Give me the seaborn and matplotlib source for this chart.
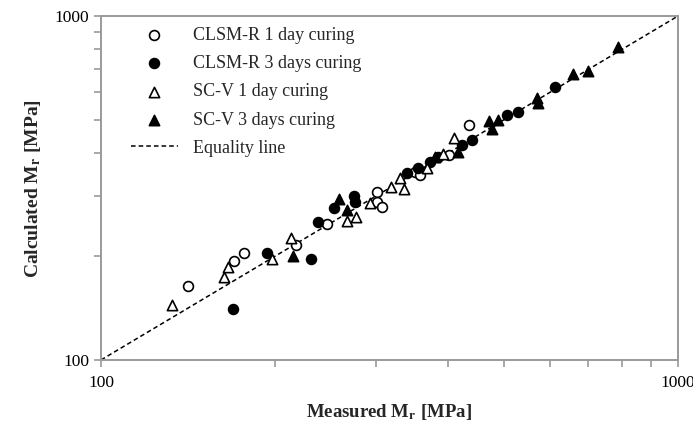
import matplotlib
matplotlib.use("Agg")
import matplotlib.pyplot as plt
import matplotlib.ticker as mticker
import seaborn as sns
import pandas as pd

# ── Data (MPa) ────────────────────────────────────────────────
clsm1_meas = [141.6, 170.2, 177.2, 217.5, 246.7, 300.5, 301.2, 306.5,
              350.1, 357.2, 401.5, 434.8]
clsm1_calc = [164.4, 193.6, 204.3, 215.9, 248.5, 308.6, 288.5, 279.0,
              352.7, 345.0, 394.5, 482.1]

clsm3_meas = [169.1, 193.7, 230.9, 238.1, 253.4, 274.8, 275.5, 338.8,
              354.8, 371.7, 384.2, 421.9, 439.5, 506.0, 528.8, 612.2]
clsm3_calc = [140.7, 205.1, 196.6, 252.5, 276.1, 300.4, 288.5, 348.9,
              360.8, 377.1, 389.9, 421.7, 436.1, 515.6, 527.1, 623.0]

scv1_meas = [132.6, 163.4, 166.2, 197.6, 213.2, 266.6, 276.7, 292.5,
             317.8, 335.1, 329.8, 366.8, 392.0, 409.7]
scv1_calc = [144.5, 174.7, 186.0, 196.2, 226.8, 254.1, 261.0, 285.5,
             317.7, 314.1, 337.5, 360.8, 397.2, 441.1]

scv3_meas = [214.9, 258.8, 267.3, 379.3, 416.1, 470.9, 477.3, 488.1,
             570.4, 571.8, 657.0, 699.1, 788.1]
scv3_calc = [200.6, 293.8, 273.0, 389.9, 403.3, 496.4, 468.5, 498.8,
             576.5, 559.8, 676.8, 692.0, 811.0]

equality = [100, 1000]

# ── Style ──────────────────────────────────────────────────────
sns.set_style("ticks")
plt.rcParams.update({
    "font.family": ["Liberation Serif", "DejaVu Serif"],
    "mathtext.fontset": "stix",
    "font.size": 12.5,
    "axes.edgecolor": "#9a9a9a",
    "axes.linewidth": 1.4,
    "xtick.color": "#9a9a9a",
    "ytick.color": "#9a9a9a",
    "xtick.labelcolor": "black",
    "ytick.labelcolor": "black",
})

fig = plt.figure(figsize=(6.93, 4.25), dpi=100)
ax = fig.add_axes([0.1457, 0.153, 0.8323, 0.809])

series = [
    (clsm1_meas, clsm1_calc, "o", "white", "CLSM-R 1 day curing", 50),
    (clsm3_meas, clsm3_calc, "o", "black", "CLSM-R 3 days curing", 50),
    (scv1_meas, scv1_calc, "^", "white", "SC-V 1 day curing", 55),
    (scv3_meas, scv3_calc, "^", "black", "SC-V 3 days curing", 55),
]
for xs, ys, mk, fc, lab, s in series:
    df = pd.DataFrame({"measured": xs, "calculated": ys})
    sns.scatterplot(data=df, x="measured", y="calculated", ax=ax, marker=mk,
                    color=fc, edgecolor="black", linewidth=1.2, s=s,
                    label=lab, zorder=3)

sns.lineplot(x=equality, y=equality, ax=ax, color="black", linewidth=1.1,
             linestyle=(0, (3, 2)), label="Equality line", zorder=2)

ax.set_xscale("log")
ax.set_yscale("log")
ax.set_xlim(100, 1000)
ax.set_ylim(100, 1000)

fmt = mticker.FuncFormatter(lambda v, p: f"{v:.0f}")
for axis in (ax.xaxis, ax.yaxis):
    axis.set_major_locator(mticker.FixedLocator([100, 1000]))
    axis.set_minor_locator(mticker.FixedLocator(range(200, 1000, 100)))
    axis.set_major_formatter(fmt)
    axis.set_minor_formatter(mticker.NullFormatter())
ax.tick_params(which="both", direction="out", length=5, width=1.2,
               labelsize=12.5)
ax.tick_params(axis="x", which="both", pad=6)

ax.set_xlabel(r"Measured M$_\mathbf{r}$ [MPa]", fontsize=13.5,
              fontweight="bold", labelpad=8)
ax.set_ylabel(r"Calculated M$_\mathbf{r}$ [MPa]", fontsize=14,
              fontweight="bold", labelpad=8)

ax.legend(loc="upper left", bbox_to_anchor=(0.033, 1.0), frameon=False,
          handlelength=2.6, handletextpad=0.85, labelspacing=0.62,
          borderaxespad=0.3, borderpad=0.3, fontsize=13)

fig.savefig("out.png", dpi=100)
